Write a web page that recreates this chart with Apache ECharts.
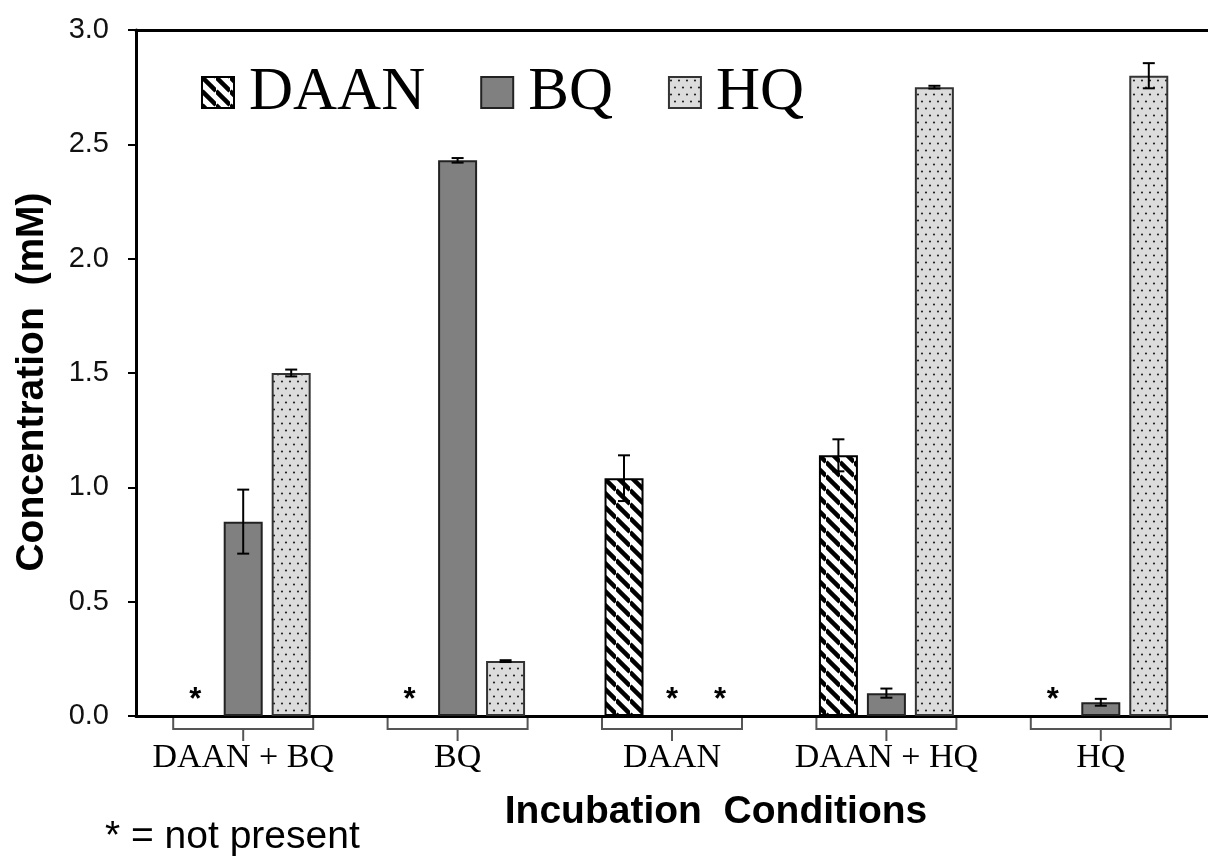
<!DOCTYPE html>
<html>
<head>
<meta charset="utf-8">
<title>Incubation Conditions</title>
<script src="https://cdn.jsdelivr.net/npm/echarts@6/dist/echarts.min.js"></script>
<style>
  html, body { margin: 0; padding: 0; background: #fff; }
  #chart { width: 1208px; height: 857px; }
</style>
</head>
<body>
<div id="chart"></div>
<script>
// data (null = not present, drawn as *)
const categories = ['DAAN + BQ', 'BQ', 'DAAN', 'DAAN + HQ', 'HQ']
const daanValues = [null, null, 1.04, 1.14, null]
const daanErrors = [0, 0, 0.10, 0.07, 0]
const bqValues = [0.85, 2.43, null, 0.10, 0.06]
const bqErrors = [0.14, 0.01, 0, 0.02, 0.015]
const hqValues = [1.50, 0.24, null, 2.75, 2.80]
const hqErrors = [0.015, 0.004, 0, 0.006, 0.055]

const BAR_W = 39
const BAR_STEP = 48 // bar width + gap

// diagonal stripes for DAAN
function stripePattern() {
  const s = 14
  const c = document.createElement('canvas')
  c.width = s
  c.height = s
  const ctx = c.getContext('2d')
  ctx.fillStyle = '#fff'
  ctx.fillRect(0, 0, s, s)
  ctx.strokeStyle = '#000'
  ctx.lineWidth = 4.5
  for (let k = -1; k <= 1; k++) {
    ctx.beginPath()
    ctx.moveTo(0, k * s)
    ctx.lineTo(s, s + k * s)
    ctx.stroke()
  }
  return c
}

// light grey with dots for HQ
function dotPattern() {
  const c = document.createElement('canvas')
  c.width = 8
  c.height = 14
  const ctx = c.getContext('2d')
  ctx.fillStyle = '#dcdcdc'
  ctx.fillRect(0, 0, 8, 14)
  ctx.fillStyle = '#222'
  ctx.beginPath()
  ctx.arc(2, 3.5, 1.1, 0, Math.PI * 2)
  ctx.arc(6, 10.5, 1.1, 0, Math.PI * 2)
  ctx.fill()
  return c
}

function barData(values) {
  return values.map(v => v === null
    ? { value: 0, itemStyle: { borderWidth: 0 }, label: { show: true } }
    : v)
}

function barSeries(name, values, color, borderColor) {
  return {
    name: name,
    type: 'bar',
    barWidth: BAR_W,
    barGap: '23%',
    data: barData(values),
    itemStyle: { color: color, borderColor: borderColor, borderWidth: 2 },
    label: {
      show: false,
      position: 'top',
      distance: 0,
      formatter: '*',
      fontFamily: 'Liberation Sans',
      fontWeight: 'bold',
      fontSize: 31,
      color: '#000'
    },
    emphasis: { disabled: true }
  }
}

function errorSeries(values, errors, offset) {
  const data = []
  values.forEach((v, i) => {
    if (v !== null) data.push([i, v, errors[i]])
  })
  return {
    type: 'custom',
    z: 5,
    encode: { x: 0, y: 1 },
    data: data,
    renderItem: (params, api) => {
      const i = api.value(0)
      const v = api.value(1)
      const e = api.value(2)
      const hi = api.coord([i, v + e])
      const lo = api.coord([i, v - e])
      const x = hi[0] + offset
      const st = { stroke: '#000', lineWidth: 2 }
      return {
        type: 'group',
        children: [
          { type: 'line', shape: { x1: x, y1: hi[1], x2: x, y2: lo[1] }, style: st },
          { type: 'line', shape: { x1: x - 6, y1: hi[1], x2: x + 6, y2: hi[1] }, style: st },
          { type: 'line', shape: { x1: x - 6, y1: lo[1], x2: x + 6, y2: lo[1] }, style: st }
        ]
      }
    }
  }
}

// bracket under each group of bars
const bracketSeries = {
  type: 'custom',
  clip: false,
  silent: true,
  encode: { x: 0, y: 1 },
  data: categories.map((c, i) => [i, 0]),
  renderItem: (params, api) => {
    const p = api.coord([api.value(0), 0])
    const cx = p[0]
    const y = p[1]
    const half = 70
    const st = { stroke: '#555', lineWidth: 2, fill: null }
    return {
      type: 'group',
      children: [
        { type: 'polyline', shape: { points: [[cx - half, y + 2], [cx - half, y + 13], [cx + half, y + 13], [cx + half, y + 2]] }, style: st },
        { type: 'line', shape: { x1: cx, y1: y + 13, x2: cx, y2: y + 25 }, style: st }
      ]
    }
  }
}

const chart = echarts.init(document.getElementById('chart'))
chart.setOption({
  animation: false,
  backgroundColor: '#fff',
  title: {
    text: '* = not present',
    left: 100,
    top: 813,
    textStyle: { fontFamily: 'Liberation Sans', fontWeight: 'normal', fontSize: 39, color: '#000' }
  },
  legend: {
    data: ['DAAN', 'BQ', 'HQ'],
    left: 196,
    top: 57,
    icon: 'rect',
    itemWidth: 32,
    itemHeight: 31,
    itemGap: 55,
    selectedMode: false,
    textStyle: { fontFamily: 'Liberation Serif', fontSize: 61, color: '#000', padding: [0, 0, 0, 10] }
  },
  grid: { left: 136, top: 30, width: 1084, height: 686 },
  xAxis: [
    {
      type: 'category',
      data: categories,
      axisLine: { lineStyle: { color: '#000', width: 3 } },
      axisTick: { show: false },
      axisLabel: { interval: 0, fontFamily: 'Liberation Serif', fontSize: 34, color: '#000', margin: 25 },
      name: 'Incubation  Conditions',
      nameLocation: 'middle',
      nameGap: 77,
      nameTextStyle: {
        fontFamily: 'Liberation Sans', fontWeight: 'bold', fontSize: 39, color: '#000',
        padding: [0, 0, 0, 88]
      }
    },
    {
      // top frame line
      type: 'category',
      position: 'top',
      data: categories,
      axisLine: { lineStyle: { color: '#000', width: 3 } },
      axisTick: { show: false },
      axisLabel: { show: false }
    }
  ],
  yAxis: {
    type: 'value',
    min: 0,
    max: 3,
    interval: 0.5,
    splitLine: { show: false },
    axisLine: { show: true, lineStyle: { color: '#000', width: 3 } },
    axisTick: { show: true, length: 8, lineStyle: { color: '#000', width: 2 } },
    axisLabel: {
      fontFamily: 'Liberation Sans', fontSize: 29, color: '#111', margin: 27,
      formatter: v => v.toFixed(1)
    },
    name: 'Concentration  (mM)',
    nameLocation: 'middle',
    nameGap: 84,
    nameTextStyle: {
      fontFamily: 'Liberation Sans', fontWeight: 'bold', fontSize: 39, color: '#000',
      padding: [0, 18, 0, 0]
    }
  },
  series: [
    barSeries('DAAN', daanValues, { image: stripePattern(), repeat: 'repeat' }, '#000'),
    barSeries('BQ', bqValues, '#808080', '#222'),
    barSeries('HQ', hqValues, { image: dotPattern(), repeat: 'repeat' }, '#333'),
    errorSeries(daanValues, daanErrors, -BAR_STEP),
    errorSeries(bqValues, bqErrors, 0),
    errorSeries(hqValues, hqErrors, BAR_STEP),
    bracketSeries
  ]
})
</script>
</body>
</html>
